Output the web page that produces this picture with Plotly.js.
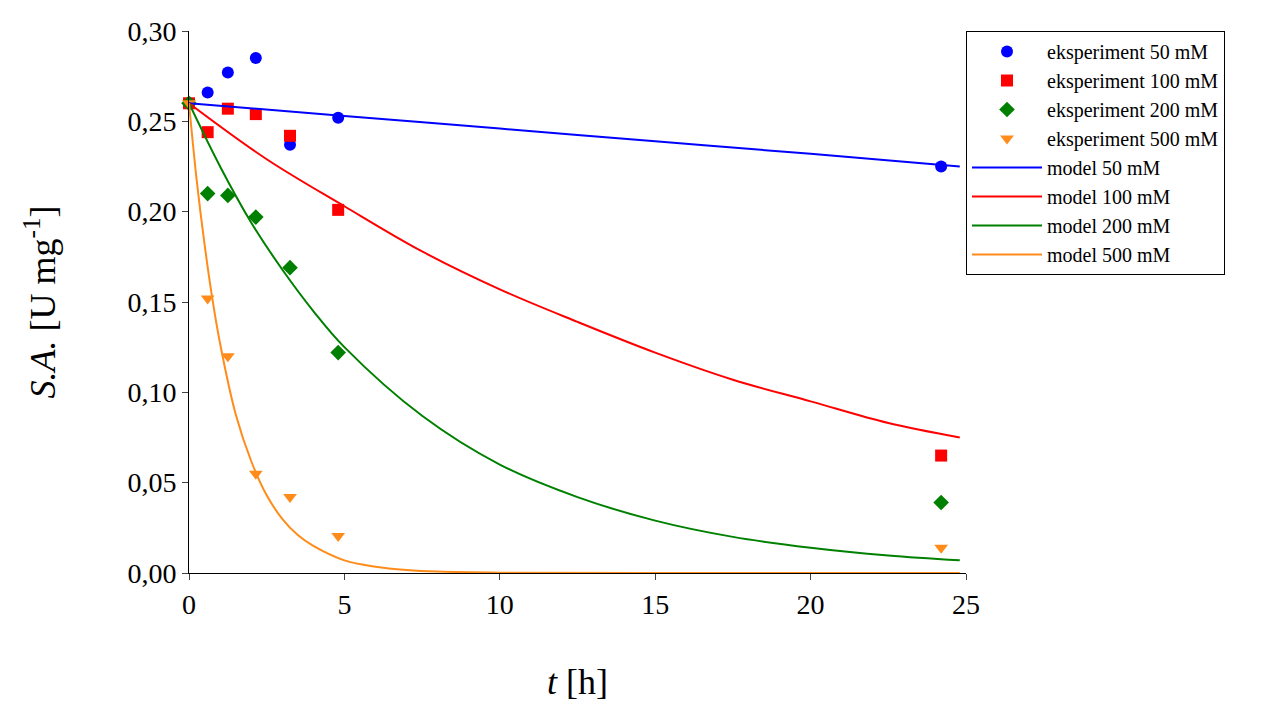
<!DOCTYPE html>
<html>
<head>
<script src="https://cdn.plot.ly/plotly-3.0.1.min.js"></script>
<style>body{margin:0;background:#fff}</style>
</head>
<body>
<div id="chart" style="width:1275px;height:702px"></div>
<script>
var tExp = [0, 0.6, 1.25, 2.15, 3.25, 4.8, 24.2];
var exp50 = [0.26, 0.266, 0.277, 0.285, 0.237, 0.252, 0.225];
var exp100 = [0.26, 0.244, 0.257, 0.254, 0.242, 0.201, 0.065];
var exp200 = [0.26, 0.210, 0.209, 0.197, 0.169, 0.122, 0.039];
var exp500 = [0.26, 0.152, 0.120, 0.055, 0.042, 0.0205, 0.014];

var tM50 = [0, 5, 10, 15, 20, 24.8];
var m50 = [0.26, 0.253, 0.246, 0.239, 0.232, 0.225];
var tM100 = [0, 2.5, 5, 7.5, 10, 12.5, 15, 17.5, 20, 22.5, 24.8];
var m100 = [0.26, 0.229, 0.203, 0.178, 0.157, 0.139, 0.122, 0.107, 0.095, 0.083, 0.075];
var tM200 = [0, 1, 2, 3, 4, 5, 7.5, 10, 12.5, 15, 17.5, 20, 22.5, 24.8];
var m200 = [0.26, 0.225, 0.194, 0.168, 0.145, 0.125, 0.087, 0.060, 0.042, 0.029, 0.020, 0.014, 0.0097, 0.007];
var tM500 = [0, 0.25, 0.5, 0.75, 1, 1.5, 2, 2.5, 3, 3.5, 4, 5, 6, 7, 8, 10, 15, 24.8];
var m500 = [0.26, 0.217, 0.182, 0.152, 0.127, 0.088, 0.062, 0.043, 0.030, 0.021, 0.015, 0.007, 0.0035, 0.0017, 0.0008, 0.0002, 0, 0];

var blue = '#0000ff', red = '#ff0000', green = '#008000', orange = '#ff8c1a';

function pts(x, y, name, color, symbol) {
  return {x: x, y: y, name: name, mode: 'markers', type: 'scatter',
    marker: {color: color, symbol: symbol, size: 12}, cliponaxis: false};
}
function line(x, y, name, color) {
  return {x: x, y: y, name: name, mode: 'lines', type: 'scatter',
    line: {color: color, width: 2, shape: 'spline'}};
}

var data = [
  pts(tExp, exp50, 'eksperiment 50 mM', blue, 'circle'),
  pts(tExp, exp100, 'eksperiment 100 mM', red, 'square'),
  pts(tExp, exp200, 'eksperiment 200 mM', green, 'diamond'),
  pts(tExp, exp500, 'eksperiment 500 mM', orange, 'triangle-down'),
  line(tM50, m50, 'model 50 mM', blue),
  line(tM100, m100, 'model 100 mM', red),
  line(tM200, m200, 'model 200 mM', green),
  line(tM500, m500, 'model 500 mM', orange)
];

var font = 'Liberation Serif, Times New Roman, serif';
var layout = {
  width: 1275, height: 702,
  margin: {l: 189, r: 309, t: 31, b: 129},
  paper_bgcolor: '#fff', plot_bgcolor: '#fff',
  separators: ',.',
  font: {family: font, color: '#000'},
  showlegend: true,
  legend: {x: 1.0, y: 1, xanchor: 'left', yanchor: 'top',
    bordercolor: '#000', borderwidth: 1, font: {size: 20, family: font},
    tracegroupgap: 0, itemwidth: 70, entrywidth: 250},
  xaxis: {range: [0, 25], dtick: 5, showgrid: false, zeroline: false,
    showline: true, linecolor: '#000', linewidth: 1, ticks: 'outside',
    ticklen: 6, tickfont: {size: 28},
    title: {text: '<i>t</i> [h]', font: {size: 36}, standoff: 50}},
  yaxis: {range: [0, 0.30], dtick: 0.05, tickformat: '.2f', showgrid: false,
    zeroline: false, showline: true, linecolor: '#000', linewidth: 1,
    ticks: 'outside', ticklen: 6, tickfont: {size: 28},
    title: {text: '<i>S.A.</i> [U mg<sup>-1</sup>]', font: {size: 36}, standoff: 60}}
};

Plotly.newPlot('chart', data, layout, {displayModeBar: false});
</script>
</body>
</html>
